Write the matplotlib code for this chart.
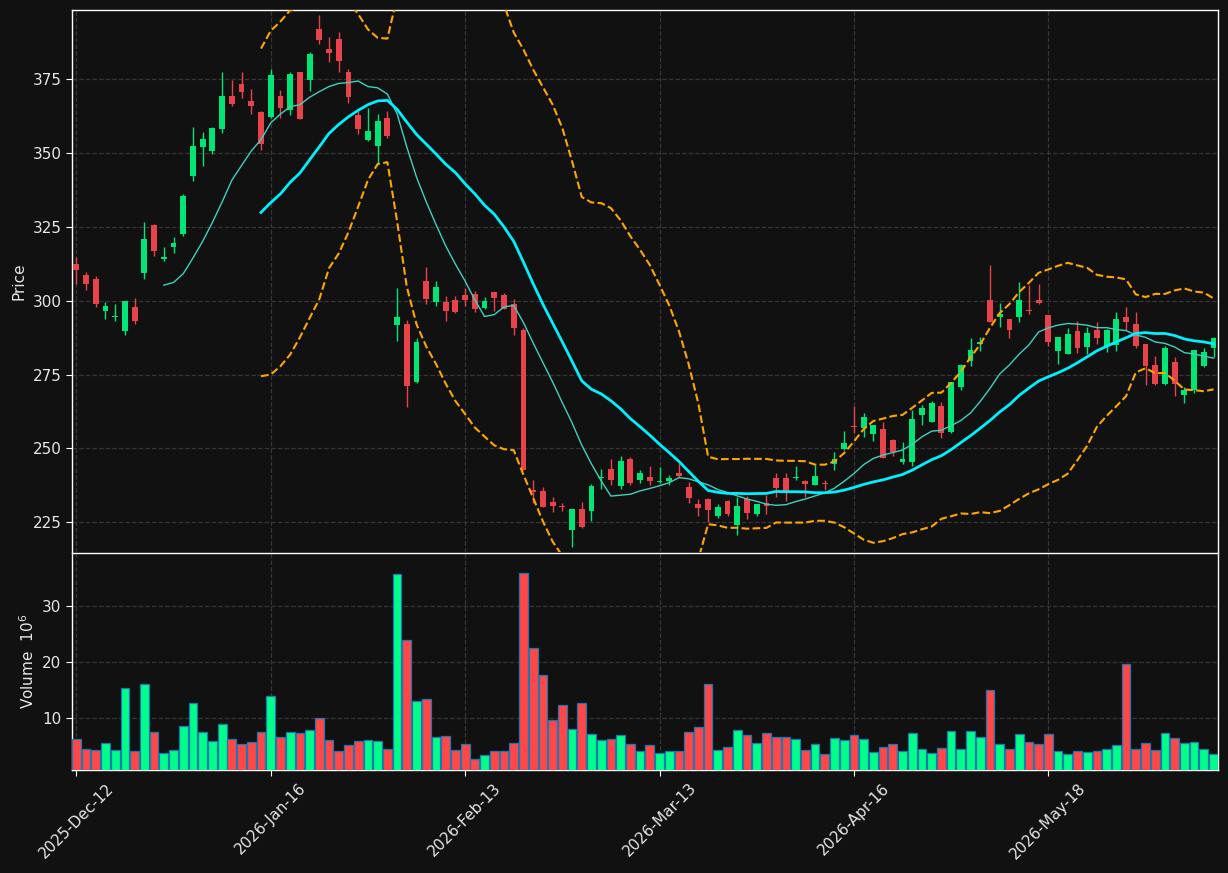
import numpy as np
import pandas as pd
import matplotlib
matplotlib.use("Agg")
import matplotlib.pyplot as plt

# OHLC values (one per trading day)
opens = [312.5, 308.5, 307.2, 296.5, 294.3, 289.6, 297.8, 309.2, 325.4, 314.1,
         318.2, 322.5, 342.1, 352.0, 350.7, 358.0, 369.3, 373.3, 367.6, 363.7,
         362.2, 369.0, 364.4, 377.2, 374.5, 391.7, 384.9, 388.5, 377.1, 362.6,
         354.2, 352.3, 361.6, 291.7, 292.2, 272.6, 306.5, 299.6, 299.5, 300.1,
         301.8, 302.1, 297.4, 302.8, 301.8, 298.7, 289.9, 235.9, 235.5, 231.9,
         230.5, 222.5, 229.7, 228.9, 239.9, 243.2, 237.2, 246.6, 239.4, 240.3,
         238.7, 238.9, 241.7, 237.0, 231.3, 232.9, 227.2, 232.1, 224.2, 232.9,
         228.0, 231.7, 239.9, 239.9, 239.9, 238.9, 237.7, 238.3, 244.9, 249.8,
         257.5, 257.0, 255.0, 256.5, 252.7, 245.4, 245.5, 261.2, 259.0, 264.2,
         255.5, 270.9, 279.7, 285.4, 300.1, 294.6, 293.7, 294.6, 296.7, 300.1,
         295.0, 282.9, 282.0, 289.8, 284.4, 289.9, 284.7, 285.0, 294.4, 292.0,
         285.2, 278.1, 271.8, 279.2, 268.1, 269.7, 277.9, 284.1]
highs = [314.7, 309.5, 308.2, 299.6, 299.0, 299.9, 301.0, 326.4, 325.8, 318.2,
         321.5, 336.0, 358.7, 356.9, 358.5, 377.1, 374.6, 377.1, 371.6, 364.0,
         378.3, 371.3, 377.1, 377.4, 383.9, 396.4, 389.1, 390.7, 378.3, 364.1,
         365.2, 363.1, 364.0, 304.1, 293.4, 287.2, 311.3, 306.7, 301.6, 301.6,
         304.3, 303.3, 301.3, 303.0, 302.6, 300.4, 290.8, 239.5, 237.1, 233.5,
         231.4, 229.7, 231.9, 238.0, 242.9, 246.5, 247.3, 247.1, 242.8, 244.0,
         243.7, 241.0, 245.2, 238.7, 232.9, 233.1, 231.1, 232.6, 233.5, 233.8,
         231.3, 234.3, 241.6, 241.6, 244.0, 239.5, 244.3, 239.5, 248.8, 256.0,
         264.5, 262.1, 258.0, 258.8, 253.1, 252.2, 263.0, 264.8, 266.0, 265.8,
         272.6, 278.7, 287.5, 287.8, 312.1, 299.2, 293.9, 306.1, 305.3, 305.7,
         295.2, 287.8, 290.8, 293.2, 291.0, 292.6, 290.4, 296.0, 297.8, 296.2,
         285.4, 281.1, 284.5, 280.8, 270.9, 283.4, 283.8, 287.8]
lows = [305.6, 303.5, 297.7, 293.8, 293.2, 288.4, 292.0, 307.4, 314.9, 313.3,
        316.1, 321.8, 340.5, 345.6, 349.7, 356.8, 365.7, 368.6, 363.2, 350.9,
        361.7, 361.6, 362.8, 361.2, 370.7, 386.8, 380.7, 377.3, 366.8, 356.4,
        354.0, 346.0, 355.0, 286.2, 263.9, 272.1, 299.0, 298.0, 293.0, 295.8,
        298.0, 296.2, 297.1, 296.6, 297.1, 288.4, 242.6, 231.7, 230.1, 228.4,
        228.9, 216.6, 223.0, 225.6, 236.2, 237.7, 236.2, 237.5, 238.2, 237.5,
        238.2, 237.5, 240.4, 231.7, 227.3, 225.0, 226.6, 227.2, 220.8, 226.1,
        227.2, 228.0, 233.5, 232.3, 239.5, 233.5, 237.5, 235.9, 242.8, 249.5,
        255.2, 254.0, 252.5, 246.7, 247.6, 244.9, 244.0, 258.0, 258.9, 253.6,
        255.3, 269.9, 278.0, 282.9, 292.6, 291.0, 287.2, 292.8, 295.6, 299.0,
        284.5, 278.7, 281.8, 282.3, 282.0, 285.4, 282.7, 282.9, 290.2, 283.8,
        271.5, 271.5, 271.5, 267.9, 265.2, 268.7, 277.5, 280.8]
closes = [310.3, 305.6, 298.9, 298.0, 294.5, 299.7, 293.0, 320.7, 316.6, 314.7,
          319.4, 335.2, 352.1, 354.5, 358.2, 369.0, 366.4, 370.5, 365.7, 352.9,
          376.1, 365.1, 376.7, 361.4, 383.4, 388.0, 383.7, 380.9, 368.8, 358.0,
          357.4, 360.8, 355.6, 294.6, 271.1, 286.0, 300.4, 304.5, 296.5, 296.1,
          300.1, 297.2, 299.7, 300.8, 297.3, 290.8, 242.8, 235.3, 230.3, 230.5,
          230.1, 229.5, 223.6, 237.2, 240.3, 239.4, 245.9, 238.4, 241.6, 238.9,
          239.0, 240.1, 240.6, 233.3, 230.0, 229.2, 230.3, 227.8, 230.5, 228.3,
          231.2, 230.5, 236.7, 235.5, 240.3, 238.1, 240.6, 238.1, 246.4, 251.8,
          257.1, 260.6, 257.8, 246.9, 248.8, 246.6, 259.9, 263.6, 265.3, 255.2,
          272.4, 278.1, 283.2, 286.0, 292.8, 295.6, 290.2, 300.1, 296.3, 299.2,
          286.0, 287.6, 288.6, 284.0, 288.9, 287.4, 290.2, 293.7, 292.8, 284.7,
          277.8, 271.8, 283.8, 271.8, 269.7, 283.2, 282.6, 287.2]
# volume in millions
volumes = [6.37, 4.58, 4.40, 5.54, 4.40, 15.36, 4.23, 16.07, 7.50, 3.75,
           4.40, 8.57, 12.68, 7.50, 5.89, 8.93, 6.25, 5.36, 5.71, 7.50,
           13.93, 6.61, 7.50, 7.32, 7.86, 10.0, 6.07, 4.11, 5.18, 5.89,
           6.07, 5.89, 4.46, 35.71, 23.93, 13.04, 13.39, 6.61, 6.79, 4.29,
           5.36, 2.68, 3.39, 4.11, 4.11, 5.54, 35.89, 22.5, 17.68, 9.64,
           12.32, 8.04, 12.68, 7.14, 6.07, 6.25, 6.96, 5.36, 4.11, 5.18,
           3.75, 4.11, 4.11, 7.50, 8.39, 16.07, 4.29, 4.82, 7.86, 6.96,
           5.54, 7.32, 6.61, 6.61, 6.25, 4.29, 5.36, 3.57, 6.43, 6.07,
           6.96, 6.25, 3.93, 4.82, 5.36, 4.11, 7.32, 4.46, 3.75, 4.64,
           7.68, 4.46, 7.68, 6.61, 15.0, 5.36, 4.46, 7.14, 5.71, 5.36,
           7.14, 4.11, 3.57, 4.11, 3.93, 4.11, 4.46, 5.18, 19.64, 4.46,
           5.54, 4.29, 7.32, 6.43, 5.54, 5.71, 4.46, 3.57]
tick_labels = ["2025-Dec-12", "2026-Jan-16", "2026-Feb-13",
               "2026-Mar-13", "2026-Apr-16", "2026-May-18"]

df = pd.DataFrame({"Open": opens, "High": highs, "Low": lows,
                   "Close": closes, "Volume": volumes})
n = len(df)
x = np.arange(n)
up = df["Close"] >= df["Open"]

ma10 = df["Close"].rolling(10).mean()
ma20 = df["Close"].rolling(20).mean()
sd20 = df["Close"].rolling(20).std(ddof=0)
upper = ma20 + 2 * sd20
lower = ma20 - 2 * sd20

BG = "#111111"
GRID = "#363636"
TXT = "#e6e6e6"
candle_up, candle_dn = "#00e676", "#e8434a"
vol_up, vol_dn = "#00ff88", "#ff4747"

fig = plt.figure(figsize=(12.28, 8.73), dpi=100, facecolor=BG)
ax = fig.add_axes([0.0586, 0.3677, 0.9332, 0.6208])
axv = fig.add_axes([0.0586, 0.1180, 0.9332, 0.2486], sharex=ax)

for a in (ax, axv):
    a.set_facecolor(BG)
    for s in a.spines.values():
        s.set_color("white")
        s.set_linewidth(1.0)
    a.grid(True, linestyle="--", color=GRID, linewidth=0.9)
    a.set_axisbelow(True)
    a.tick_params(colors=TXT, labelsize=11, length=4, color="white")

# candles
ccol = np.where(up, candle_up, candle_dn)
ax.vlines(x, df["Low"], df["High"], colors=ccol, linewidth=1.0, zorder=3)
body = np.maximum((df["Close"] - df["Open"]).abs(), 0.35)
bottom = np.minimum(df["Open"], df["Close"])
ax.bar(x, body, bottom=bottom, width=0.6, color=ccol, linewidth=0, zorder=4)

# moving averages and bands
ax.plot(x, ma10, color="#40d0c0", linewidth=1.0, zorder=5)
ax.plot(x, ma20, color="#00f0ff", linewidth=2.0, zorder=5)
ax.plot(x, upper, color="#ffa500", linestyle="--", linewidth=1.5, zorder=5)
ax.plot(x, lower, color="#ffa500", linestyle="--", linewidth=1.5, zorder=5)

ax.set_ylim(215.0, 398.2)
ax.set_yticks([225, 250, 275, 300, 325, 350, 375])
ax.set_ylabel("Price", color=TXT, fontsize=11)
ax.tick_params(axis="x", labelbottom=False, length=0)
ax.spines["bottom"].set_visible(False)

# volume
vcol = np.where(up, vol_up, vol_dn)
axv.bar(x, df["Volume"], width=0.9, color=vcol, edgecolor="#1f77b4",
        linewidth=0.9, zorder=3)
axv.set_ylim(0.3 * df["Volume"].min(), 1.1 * df["Volume"].max())
axv.set_yticks([10, 20, 30])
axv.set_ylabel("Volume  $10^{6}$", color=TXT, fontsize=11)

ticks = list(range(0, n, 20))
axv.set_xticks(ticks)
axv.set_xticklabels(tick_labels, rotation=45, ha="center")
axv.set_xlim(-0.45, n - 1 + 0.45)

fig.savefig("out.png", dpi=100, facecolor=BG)
